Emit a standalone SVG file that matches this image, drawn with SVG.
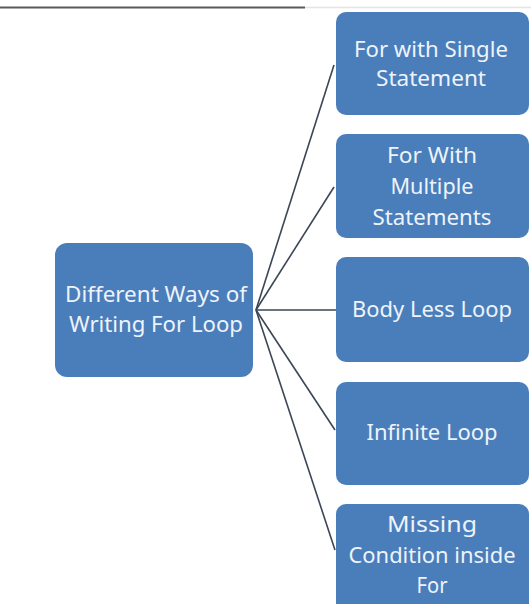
<svg xmlns="http://www.w3.org/2000/svg" width="531" height="604" viewBox="0 0 531 604">
<style>
.box{fill:#4a7ebb;}
.t{font-family:"Noto Sans","Open Sans",sans-serif;font-size:22px;fill:#eef3fa;text-anchor:middle;}
.c{stroke:#3b4656;stroke-width:1.6;fill:none;}
</style>
<rect width="531" height="604" fill="#ffffff"/>
<line x1="0" y1="7.5" x2="305" y2="7.5" stroke="#5a5a5a" stroke-width="2"/>
<line x1="305" y1="7.5" x2="531" y2="7.5" stroke="#e4e4e8" stroke-width="1.5"/>
<g id="connectors">
<line class="c" x1="256" y1="310" x2="334" y2="65"/>
<line class="c" x1="256" y1="310" x2="334" y2="187"/>
<line class="c" x1="256" y1="310" x2="336" y2="310"/>
<line class="c" x1="256" y1="310" x2="335" y2="430"/>
<line class="c" x1="256" y1="310" x2="335" y2="550"/>
</g>
<g id="root">
<rect class="box" x="55" y="243" width="198" height="134" rx="12"/>
<text class="t" x="156" y="302" textLength="182" lengthAdjust="spacingAndGlyphs">Different Ways of</text>
<text class="t" x="156" y="332" textLength="174" lengthAdjust="spacingAndGlyphs">Writing For Loop</text>
</g>
<g id="n1">
<rect class="box" x="336" y="12" width="193" height="103" rx="10"/>
<text class="t" x="431" y="57" textLength="154" lengthAdjust="spacingAndGlyphs">For with Single</text>
<text class="t" x="431" y="86" textLength="110" lengthAdjust="spacingAndGlyphs">Statement</text>
</g>
<g id="n2">
<rect class="box" x="336" y="134" width="193" height="104" rx="10"/>
<text class="t" x="432" y="163" textLength="90" lengthAdjust="spacingAndGlyphs">For With</text>
<text class="t" x="432" y="194" textLength="83" lengthAdjust="spacingAndGlyphs">Multiple</text>
<text class="t" x="432" y="225" textLength="119" lengthAdjust="spacingAndGlyphs">Statements</text>
</g>
<g id="n3">
<rect class="box" x="336" y="257" width="193" height="105" rx="10"/>
<text class="t" x="432" y="317" textLength="160" lengthAdjust="spacingAndGlyphs">Body Less Loop</text>
</g>
<g id="n4">
<rect class="box" x="336" y="382" width="193" height="103" rx="10"/>
<text class="t" x="432" y="440" textLength="131" lengthAdjust="spacingAndGlyphs">Infinite Loop</text>
</g>
<g id="n5">
<rect class="box" x="336" y="504" width="193" height="110" rx="10"/>
<text class="t" x="432" y="532" textLength="90" lengthAdjust="spacingAndGlyphs">Missing</text>
<text class="t" x="432" y="563" textLength="167" lengthAdjust="spacingAndGlyphs">Condition inside</text>
<text class="t" x="432" y="593" textLength="31" lengthAdjust="spacingAndGlyphs">For</text>
</g>
</svg>
